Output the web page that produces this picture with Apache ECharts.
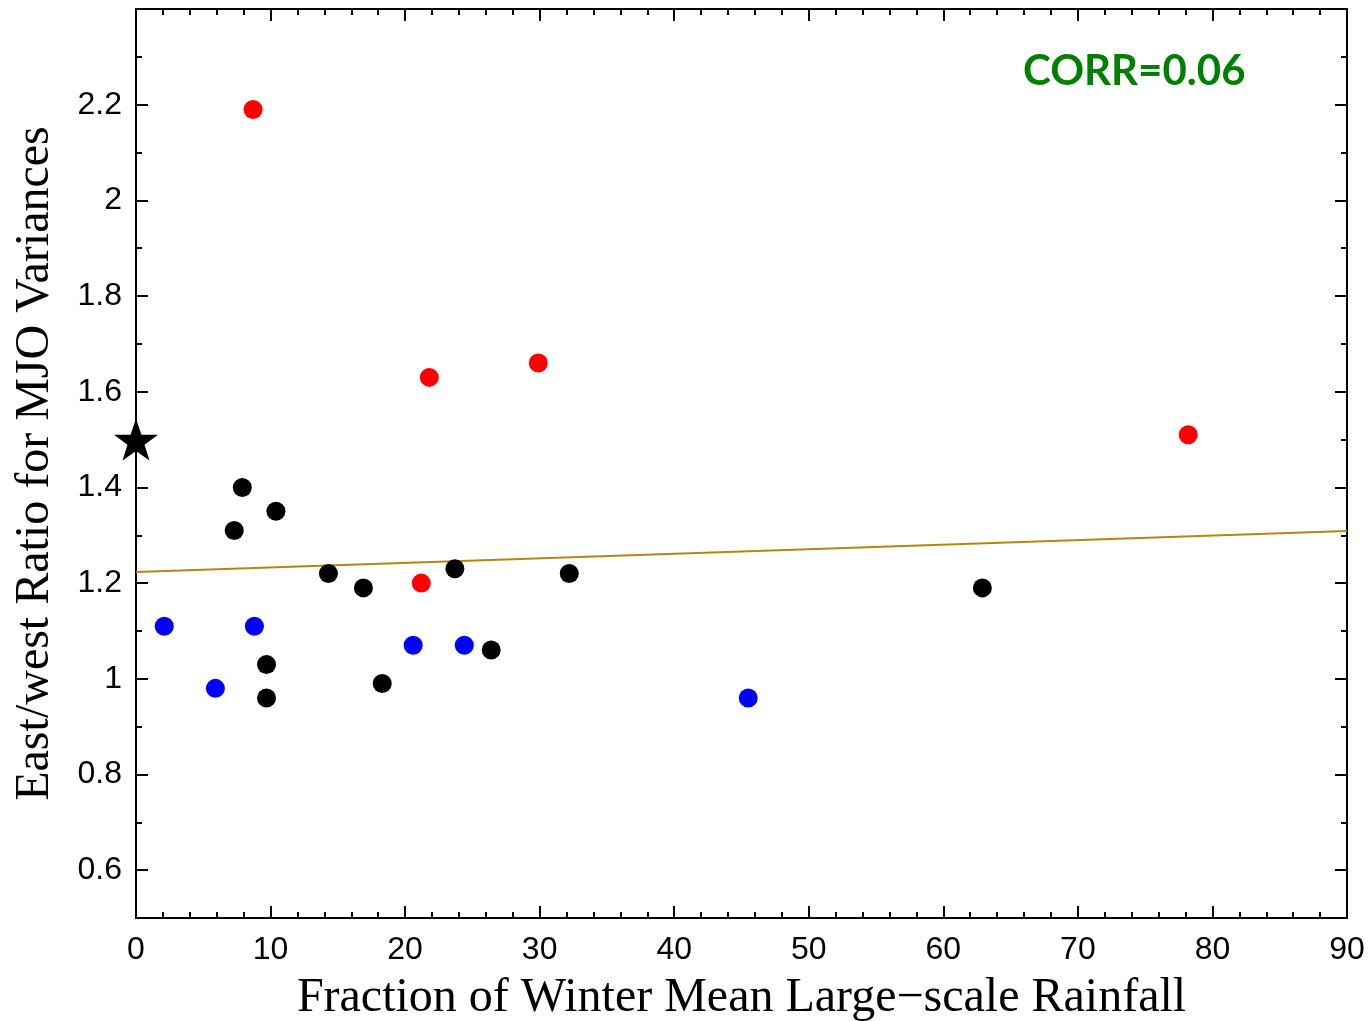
<!DOCTYPE html>
<html>
<head>
<meta charset="utf-8">
<script src="https://cdn.jsdelivr.net/npm/echarts@6/dist/echarts.min.js"></script>
<style>html,body{margin:0;padding:0;background:#fff;}#c{width:1370px;height:1021px;}</style>
</head>
<body>
<div id="c"></div>
<script>
// Data
var redPoints = [[8.7, 2.19], [21.8, 1.63], [29.9, 1.66], [78.2, 1.51], [21.2, 1.20]];
var blackPoints = [[7.9, 1.40], [7.3, 1.31], [10.4, 1.35], [14.3, 1.22], [16.9, 1.19], [23.7, 1.23], [32.2, 1.22], [62.9, 1.19], [9.7, 1.03], [9.7, 0.96], [18.3, 0.99], [26.4, 1.06]];
var bluePoints = [[2.1, 1.11], [5.9, 0.98], [8.8, 1.11], [20.6, 1.07], [24.4, 1.07], [45.5, 0.96]];
var starPoint = [[0, 1.5]];
var fitLine = [[0, 1.223], [90, 1.309]];
var yMajorTicks = [0.6, 0.8, 1.0, 1.2, 1.4, 1.6, 1.8, 2.0, 2.2];
var yMinorTicks = [0.5, 0.7, 0.9, 1.1, 1.3, 1.5, 1.7, 1.9, 2.1, 2.3];
var corrText = 'CORR=0.06';
var xTitle = 'Fraction of Winter Mean Large\u2212scale Rainfall';
var yTitle = 'East/west Ratio for MJO Variances';

var chart = echarts.init(document.getElementById('c'), null, {renderer: 'canvas'});
var lineStyle = {color: '#000', width: 2};
var starPath = 'path://M50,0 L61.8,35.1 L98.1,35.1 L68.7,56.8 L79.4,91 L50,70 L20.6,91 L31.3,56.8 L1.9,35.1 L38.2,35.1 Z';

function yLabel(v) {
  return (Math.round(v * 10) / 10).toString();
}

var option = {
  backgroundColor: '#fff',
  animation: false,
  grid: {left: 136, right: 23, top: 9, bottom: 103, containLabel: false, outerBoundsMode: 'none'},
  xAxis: [
    {
      type: 'value', min: 0, max: 90, interval: 10, position: 'bottom',
      name: xTitle, nameLocation: 'middle', nameGap: 56,
      nameTextStyle: {fontFamily: 'Liberation Serif', fontSize: 48, color: '#000'},
      axisLine: {show: true, lineStyle: lineStyle},
      axisTick: {show: true, inside: true, length: 12, lineStyle: lineStyle},
      minorTick: {show: true, splitNumber: 5, length: 6, lineStyle: lineStyle},
      axisLabel: {show: true, fontFamily: 'Liberation Sans', fontSize: 32, color: '#000', margin: 16},
      splitLine: {show: false}
    },
    {
      type: 'value', min: 0, max: 90, interval: 10, position: 'top',
      axisLine: {show: true, lineStyle: lineStyle},
      axisTick: {show: true, inside: true, length: 12, lineStyle: lineStyle},
      minorTick: {show: true, splitNumber: 5, length: 6, lineStyle: lineStyle},
      axisLabel: {show: false},
      splitLine: {show: false}
    }
  ],
  yAxis: [
    {
      type: 'value', min: 0.5, max: 2.4, position: 'left',
      name: yTitle, nameLocation: 'middle', nameGap: 77, nameRotate: 90,
      nameTextStyle: {fontFamily: 'Liberation Serif', fontSize: 48, color: '#000'},
      axisLine: {show: true, lineStyle: lineStyle},
      axisTick: {show: true, inside: true, length: 12, lineStyle: lineStyle, customValues: yMajorTicks},
      axisLabel: {show: true, fontFamily: 'Liberation Sans', fontSize: 32, color: '#000', margin: 14, customValues: yMajorTicks, formatter: yLabel},
      splitLine: {show: false}
    },
    {
      type: 'value', min: 0.5, max: 2.4, position: 'left',
      axisLine: {show: false},
      axisTick: {show: true, inside: true, length: 6, lineStyle: lineStyle, customValues: yMinorTicks},
      axisLabel: {show: false},
      splitLine: {show: false}
    },
    {
      type: 'value', min: 0.5, max: 2.4, position: 'right',
      axisLine: {show: true, lineStyle: lineStyle},
      axisTick: {show: true, inside: true, length: 12, lineStyle: lineStyle, customValues: yMajorTicks},
      axisLabel: {show: false},
      splitLine: {show: false}
    },
    {
      type: 'value', min: 0.5, max: 2.4, position: 'right',
      axisLine: {show: false},
      axisTick: {show: true, inside: true, length: 6, lineStyle: lineStyle, customValues: yMinorTicks},
      axisLabel: {show: false},
      splitLine: {show: false}
    }
  ],
  graphic: [
    {
      type: 'text', left: 1023, top: 50,
      style: {text: corrText, fontFamily: 'Lato', fontWeight: 'bold', fontSize: 42, fill: '#008000'}
    }
  ],
  series: [
    {
      type: 'line', data: fitLine, symbol: 'none', xAxisIndex: 0, yAxisIndex: 0,
      lineStyle: {color: '#B8860B', width: 2}, z: 2
    },
    {type: 'scatter', data: blackPoints, symbol: 'circle', symbolSize: 19, itemStyle: {color: '#000', opacity: 1}, z: 3},
    {type: 'scatter', data: redPoints, symbol: 'circle', symbolSize: 19, itemStyle: {color: '#ff0000', opacity: 1}, z: 3},
    {type: 'scatter', data: bluePoints, symbol: 'circle', symbolSize: 19, itemStyle: {color: '#0000ff', opacity: 1}, z: 3},
    {type: 'scatter', data: starPoint, symbol: starPath, symbolSize: [44, 42], clip: false, itemStyle: {color: '#000', opacity: 1}, z: 4}
  ]
};
chart.setOption(option);
</script>
</body>
</html>
